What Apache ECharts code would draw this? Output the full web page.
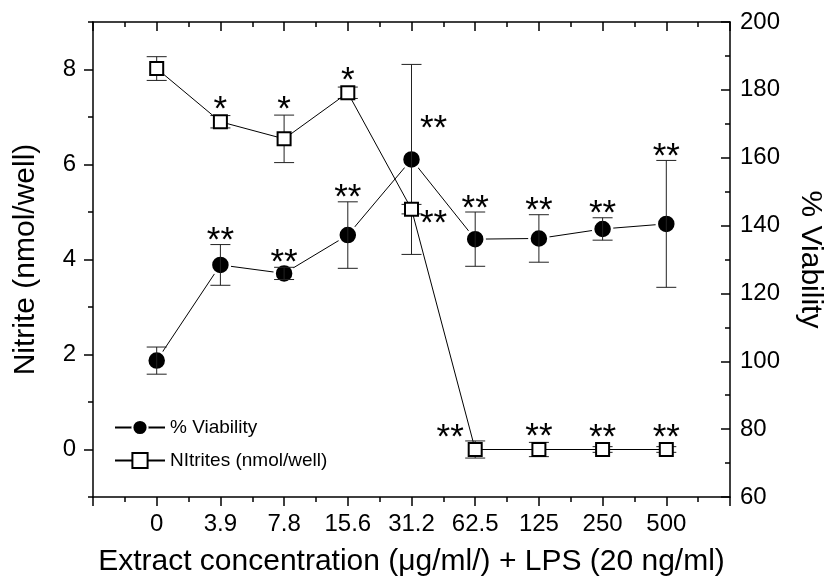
<!DOCTYPE html>
<html>
<head>
<meta charset="utf-8">
<script src="https://cdn.jsdelivr.net/npm/echarts@6/dist/echarts.min.js"></script>
<style>
  html, body { margin: 0; padding: 0; background: #fff; }
  #main { width: 825px; height: 585px; }
</style>
</head>
<body>
<div id="main"></div>
<script>
// categories on the x axis (extract concentration)
var concLabels = ['0', '3.9', '7.8', '15.6', '31.2', '62.5', '125', '250', '500'];

// nitrites, left axis (nmol/well)
var nitrite    = [8.02, 6.90, 6.54, 7.51, 5.06, 0.00, 0.00, 0.00, 0.00];
var nitriteErr = [0.25, 0.13, 0.50, 0.12, 0.10, 0.18, 0.15, 0.06, 0.06];
var nitriteStars = ['', '*', '*', '*', '**', '**', '**', '**', '**'];

// viability, right axis (%)
var viability    = [100.2, 128.4, 125.9, 137.2, 159.5, 136.0, 136.2, 139.0, 140.5];
var viabilityErr = [4.0, 6.0, 1.8, 9.8, 28.0, 8.0, 7.0, 3.3, 18.7];
var viabilityStars = ['', '**', '**', '**', '**', '**', '**', '**', '**'];

// tick values
var leftMajor = [0, 2, 4, 6, 8];
var leftMinor = [-1, 1, 3, 5, 7, 9];

var FONT = 'Liberation Sans, Arial, sans-serif';

// stars that do not sit above the point: pixel offset from the point
var starSide = {
    nitrite: {4: [22, 7], 5: [-25, -19]},
    viability: {4: [22, -38]}
};

var myChart = echarts.init(document.getElementById('main'));

function pairs(vals, errs) {
    return vals.map(function (v, i) { return [i, v, errs[i]]; });
}

function errorBars(params, api) {
    var x = api.value(0), y = api.value(1), e = api.value(2);
    var top = api.coord([x, y + e]);
    var bot = api.coord([x, y - e]);
    var w = 10;
    var st = {stroke: '#222', lineWidth: 1};
    return {
        type: 'group',
        children: [
            {type: 'line', shape: {x1: top[0], y1: top[1], x2: bot[0], y2: bot[1]}, style: st},
            {type: 'line', shape: {x1: top[0] - w, y1: top[1], x2: top[0] + w, y2: top[1]}, style: st},
            {type: 'line', shape: {x1: bot[0] - w, y1: bot[1], x2: bot[0] + w, y2: bot[1]}, style: st}
        ]
    };
}

function starRenderer(stars, side, symHalf, above) {
    return function (params, api) {
        var i = params.dataIndex;
        var txt = stars[i];
        if (!txt) return;
        var x = api.value(0), y = api.value(1), e = api.value(2);
        var p = api.coord([x, y]);
        var cx, cy;
        if (side[i]) {
            cx = p[0] + side[i][0];
            cy = p[1] + side[i][1];
        } else {
            var top = api.coord([x, y + e])[1];
            cx = p[0];
            cy = Math.min(top, p[1] - symHalf) - above;
        }
        return {
            type: 'text',
            style: {
                text: txt,
                x: cx,
                y: cy + 8,
                fill: '#000',
                font: '35px ' + FONT,
                textAlign: 'center',
                textVerticalAlign: 'middle'
            }
        };
    };
}

var axisLineStyle = {color: '#000', width: 1.5};
var tickStyle = {color: '#000', width: 1.5};

var option = {
    animation: false,
    backgroundColor: '#fff',
    grid: {left: 93, right: 95, top: 22, bottom: 88, containLabel: false, outerBoundsMode: 'none'},
    legend: {
        orient: 'vertical',
        left: 109,
        top: 413,
        itemWidth: 50,
        itemHeight: 19,
        itemGap: 14,
        selectedMode: false,
        textStyle: {fontFamily: FONT, fontSize: 19, color: '#000'},
        data: ['% Viability', 'NItrites (nmol/well)']
    },
    xAxis: [
        {
            type: 'value', position: 'bottom', min: -1, max: 9, interval: 1,
            name: 'Extract concentration (\u03bcg/ml/) + LPS (20 ng/ml)',
            nameLocation: 'middle', nameGap: 50, nameMoveOverlap: false,
            nameTextStyle: {fontFamily: FONT, fontSize: 30, color: '#000'},
            axisLine: {show: true, onZero: false, lineStyle: axisLineStyle},
            axisTick: {show: true, length: 9, lineStyle: tickStyle},
            minorTick: {show: true, splitNumber: 2, length: 5, lineStyle: tickStyle},
            axisLabel: {
                margin: 15, fontFamily: FONT, fontSize: 24, color: '#000',
                formatter: function (v) { return concLabels[v] !== undefined ? concLabels[v] : ''; }
            },
            splitLine: {show: false}
        },
        {
            type: 'value', position: 'top', min: -1, max: 9, interval: 1,
            axisLine: {show: true, onZero: false, lineStyle: axisLineStyle},
            axisTick: {show: true, inside: true, length: 9, lineStyle: tickStyle},
            minorTick: {show: true, splitNumber: 2, length: 5, lineStyle: tickStyle},
            axisLabel: {show: false},
            splitLine: {show: false}
        }
    ],
    yAxis: [
        {
            type: 'value', position: 'left', min: -1, max: 9, interval: 1,
            name: 'Nitrite (nmol/well)',
            nameLocation: 'middle', nameGap: 52, nameMoveOverlap: false,
            nameTextStyle: {fontFamily: FONT, fontSize: 30, color: '#000'},
            axisLine: {show: true, onZero: false, lineStyle: axisLineStyle},
            axisTick: {show: true, length: 9, customValues: leftMajor, lineStyle: tickStyle},
            axisLabel: {margin: 17, fontFamily: FONT, fontSize: 24, color: '#000', customValues: leftMajor},
            splitLine: {show: false}
        },
        {
            type: 'value', position: 'right', min: 60, max: 200, interval: 20,
            name: '% Viability',
            nameLocation: 'middle', nameGap: 65, nameRotate: -90, nameMoveOverlap: false,
            nameTextStyle: {fontFamily: FONT, fontSize: 30, color: '#000'},
            axisLine: {show: true, onZero: false, lineStyle: axisLineStyle},
            axisTick: {show: true, inside: true, length: 9, lineStyle: tickStyle},
            minorTick: {show: true, splitNumber: 2, length: 5, lineStyle: tickStyle},
            axisLabel: {margin: 10, fontFamily: FONT, fontSize: 24, color: '#000'},
            splitLine: {show: false}
        },
        {
            // minor ticks of the left axis
            type: 'value', position: 'left', min: -1, max: 9, interval: 1,
            axisLine: {show: false, onZero: false},
            axisTick: {show: true, length: 5, customValues: leftMinor, lineStyle: tickStyle},
            axisLabel: {show: false},
            splitLine: {show: false}
        }
    ],
    series: [
        {
            name: 'viabilityErr', type: 'custom', xAxisIndex: 0, yAxisIndex: 1, z: 3,
            renderItem: errorBars, data: pairs(viability, viabilityErr), encode: {x: 0, y: 1}
        },
        {
            name: 'nitriteErr', type: 'custom', xAxisIndex: 0, yAxisIndex: 0, z: 1,
            renderItem: errorBars, data: pairs(nitrite, nitriteErr), encode: {x: 0, y: 1}
        },
        {
            name: '% Viability', type: 'line', xAxisIndex: 0, yAxisIndex: 1, z: 2,
            data: pairs(viability, viabilityErr),
            symbol: 'circle', symbolSize: 19,
            itemStyle: {color: '#000', borderColor: '#fff', borderWidth: 2.5},
            lineStyle: {color: '#000', width: 1},
            emphasis: {disabled: true}
        },
        {
            name: 'NItrites (nmol/well)', type: 'line', xAxisIndex: 0, yAxisIndex: 0, z: 4,
            data: pairs(nitrite, nitriteErr),
            symbol: 'rect', symbolSize: 13,
            itemStyle: {color: '#fff', borderColor: '#000', borderWidth: 2},
            lineStyle: {color: '#000', width: 1},
            emphasis: {disabled: true}
        },
        {
            name: 'nitriteStars', type: 'custom', xAxisIndex: 0, yAxisIndex: 0, z: 5,
            renderItem: starRenderer(nitriteStars, starSide.nitrite, 6.5, 13),
            data: pairs(nitrite, nitriteErr), encode: {x: 0, y: 1}
        },
        {
            name: 'viabilityStars', type: 'custom', xAxisIndex: 0, yAxisIndex: 1, z: 5,
            renderItem: starRenderer(viabilityStars, starSide.viability, 7.5, 11),
            data: pairs(viability, viabilityErr), encode: {x: 0, y: 1}
        }
    ]
};

myChart.setOption(option);
</script>
</body>
</html>
